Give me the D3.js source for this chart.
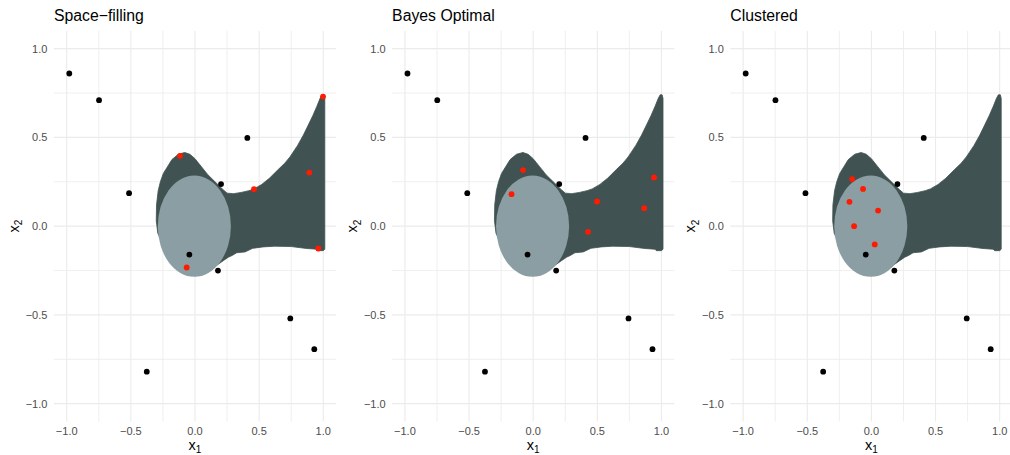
<!DOCTYPE html>
<html>
<head>
<meta charset="utf-8">
<script src="https://cdn.jsdelivr.net/npm/d3@7"></script>
<style>
  html, body { margin: 0; padding: 0; background: #fff; }
  svg { display: block; }
  text { font-family: "Liberation Sans", Arial, Helvetica, sans-serif; }
</style>
</head>
<body>
<svg id="chart" width="1010" height="455"></svg>
<script>
// ---- data ----
const panelTitles = ["Space\u2212filling", "Bayes Optimal", "Clustered"];

const blackX = [-0.98, -0.748, -0.514, -0.376, 0.408, 0.203, -0.044, 0.179, 0.743, 0.93];
const blackY = [0.86, 0.71, 0.186, -0.82, 0.497, 0.237, -0.16, -0.25, -0.52, -0.693];

const spaceFillingX = [-0.117, 0.998, 0.46, 0.891, 0.961, -0.065];
const spaceFillingY = [0.396, 0.73, 0.208, 0.302, -0.126, -0.233];

const bayesOptimalX = [-0.079, -0.169, 0.498, 0.428, 0.942, 0.865];
const bayesOptimalY = [0.316, 0.18, 0.139, -0.032, 0.274, 0.101];

const clusteredX = [-0.15, -0.065, -0.171, 0.052, -0.135, 0.026];
const clusteredY = [0.265, 0.21, 0.137, 0.088, 0.0, -0.103];

const redX = [spaceFillingX, bayesOptimalX, clusteredX];
const redY = [spaceFillingY, bayesOptimalY, clusteredY];

// outline of the dark region
const regionX = [0, -0.25, -0.29, -0.302, -0.30, -0.287, -0.27, -0.247, -0.21, -0.18, -0.13, -0.08, -0.04, 0.0, 0.05, 0.10, 0.17, 0.22, 0.25, 0.30, 0.36, 0.42, 0.46, 0.52, 0.58, 0.65, 0.70, 0.74, 0.80, 0.845, 0.88, 0.92, 0.95, 0.975, 0.99, 1.005, 1.012, 1.012, 1.0, 0.96, 0.95, 0.87, 0.75, 0.62, 0.53, 0.45, 0.39, 0.325, 0.29, 0.26, 0.22, 0.17, 0.13, 0.08];
const regionY = [0, -0.1, -0.04, 0.03, 0.12, 0.20, 0.25, 0.297, 0.34, 0.375, 0.405, 0.415, 0.405, 0.38, 0.335, 0.29, 0.24, 0.205, 0.186, 0.183, 0.19, 0.20, 0.21, 0.235, 0.27, 0.32, 0.355, 0.39, 0.455, 0.513, 0.565, 0.625, 0.675, 0.72, 0.74, 0.74, 0.72, -0.13, -0.138, -0.138, -0.13, -0.126, -0.115, -0.113, -0.117, -0.125, -0.145, -0.15, -0.165, -0.175, -0.195, -0.22, -0.245, -0.2];

// light disc
const discCenter = [-0.005, 0.0];
const discRadius = 0.285;

const majorTicks = [-1.0, -0.5, 0.0, 0.5, 1.0];
const minorTicks = [-0.75, -0.25, 0.25, 0.75];
const tickLabels = ["\u22121.0", "\u22120.5", "0.0", "0.5", "1.0"];

// ---- layout ----
const svg = d3.select("#chart");
const panelLeft0 = 53.9, panelStep = 338.2, panelW = 282.2;
const panelTop = 30.9, panelH = 390.5;

const darkCol = "#405251", lightCol = "#8a9ea3", gridCol = "#ebebeb";

panelTitles.forEach((title, i) => {
  const left = panelLeft0 + panelStep * i;
  const x = d3.scaleLinear().domain([-1.1, 1.1]).range([left, left + panelW]);
  const y = d3.scaleLinear().domain([-1.1, 1.1]).range([panelTop + panelH, panelTop]);
  const g = svg.append("g");

  // grid
  g.selectAll(".vmin").data(minorTicks).join("line")
    .attr("x1", d => x(d)).attr("x2", d => x(d))
    .attr("y1", panelTop).attr("y2", panelTop + panelH)
    .attr("stroke", gridCol).attr("stroke-width", 0.8);
  g.selectAll(".hmin").data(minorTicks).join("line")
    .attr("y1", d => y(d)).attr("y2", d => y(d))
    .attr("x1", left).attr("x2", left + panelW)
    .attr("stroke", gridCol).attr("stroke-width", 0.8);
  g.selectAll(".vmaj").data(majorTicks).join("line")
    .attr("x1", d => x(d)).attr("x2", d => x(d))
    .attr("y1", panelTop).attr("y2", panelTop + panelH)
    .attr("stroke", gridCol).attr("stroke-width", 1.1);
  g.selectAll(".hmaj").data(majorTicks).join("line")
    .attr("y1", d => y(d)).attr("y2", d => y(d))
    .attr("x1", left).attr("x2", left + panelW)
    .attr("stroke", gridCol).attr("stroke-width", 1.1);

  // dark region
  const line = d3.line().x(d => x(d[0])).y(d => y(d[1]));
  const pts = regionX.map((v, k) => [v, regionY[k]]);
  g.append("path").attr("d", line(pts) + "Z").attr("fill", darkCol).attr("stroke", darkCol).attr("stroke-width", 0.8);

  // light disc
  g.append("ellipse")
    .attr("cx", x(discCenter[0])).attr("cy", y(discCenter[1]))
    .attr("rx", x(discRadius) - x(0)).attr("ry", y(0) - y(discRadius))
    .attr("fill", lightCol);

  // black points
  g.selectAll(".bp").data(blackX).join("circle")
    .attr("cx", d => x(d)).attr("cy", (d, k) => y(blackY[k]))
    .attr("r", 2.9).attr("fill", "#000");

  // red points
  g.selectAll(".rp").data(redX[i]).join("circle")
    .attr("cx", d => x(d)).attr("cy", (d, k) => y(redY[i][k]))
    .attr("r", 2.9).attr("fill", "#ff1a00");

  // tick labels
  g.selectAll(".yl").data(majorTicks).join("text")
    .attr("x", left - 6.5).attr("y", d => y(d)).attr("dy", "0.36em")
    .attr("text-anchor", "end").attr("font-size", 11).attr("fill", "#4d4d4d")
    .text((d, k) => tickLabels[k]);
  g.selectAll(".xl").data(majorTicks).join("text")
    .attr("x", d => x(d)).attr("y", panelTop + panelH + 14)
    .attr("text-anchor", "middle").attr("font-size", 11).attr("fill", "#4d4d4d")
    .text((d, k) => tickLabels[k]);

  // title
  g.append("text").attr("x", left).attr("y", 21)
    .attr("font-size", 15.8).attr("fill", "#000").text(title);

  // axis titles
  const xt = g.append("text").attr("x", x(0)).attr("y", 449.5)
    .attr("text-anchor", "middle").attr("font-size", 14.5).attr("fill", "#000");
  xt.append("tspan").text("x");
  xt.append("tspan").attr("font-size", 10).attr("dy", 3.5).text("1");

  const yt = g.append("text")
    .attr("transform", `translate(${left - 35},${y(0)}) rotate(-90)`)
    .attr("text-anchor", "middle").attr("font-size", 14.5).attr("fill", "#000");
  yt.append("tspan").text("x");
  yt.append("tspan").attr("font-size", 10).attr("dy", 3.5).text("2");
});
</script>
</body>
</html>
